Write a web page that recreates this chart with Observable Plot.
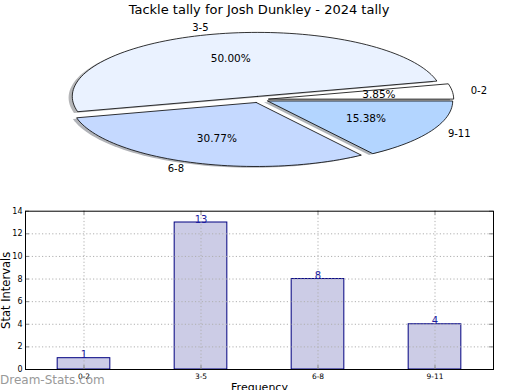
<!DOCTYPE html>
<html><head><meta charset="utf-8">
<script src="https://cdn.jsdelivr.net/npm/d3@7"></script>
<script src="https://cdn.jsdelivr.net/npm/@observablehq/plot@0.6"></script>
<style>
body{margin:0;background:#fff;font-family:"DejaVu Sans",sans-serif;}
#wrap{position:relative;width:520px;height:390px;overflow:hidden;background:#fff;}
#title{position:absolute;left:0;top:2px;width:518px;text-align:center;font-size:13px;line-height:15px;color:#000;}
#pie{position:absolute;left:0;top:0;}
#bar{position:absolute;left:0;top:200px;}
#wm{position:absolute;left:0;top:373px;font-size:12px;line-height:14px;color:#999;}
</style></head><body>
<div id="wrap">
<div id="pie"></div><div id="bar"></div>
<div id="title">Tackle tally for Josh Dunkley - 2024 tally</div>
<div id="wm">Dream-Stats.com</div>
</div>
<script>
const categories = ["0-2", "3-5", "6-8", "9-11"];
const counts = [1, 13, 8, 4];
const sliceColors = ["#ffffff", "#eaf2ff", "#c5d9ff", "#b3d5ff"];
const yTicks = [0, 2, 4, 6, 8, 10, 12, 14];

const total = d3.sum(counts);
const explode = 0.05;
const slices = [];
const polyPts = [];
const shadowPts = [];
let t1 = 0;
counts.forEach((c, i) => {
  const t2 = t1 + 360 * c / total;
  const tm = (t1 + t2) / 2 * Math.PI / 180;
  const ex = explode * Math.cos(tm), ey = explode * Math.sin(tm);
  const pts = [[ex, ey]];
  const n = Math.max(4, Math.ceil((t2 - t1) / 2));
  for (let k = 0; k <= n; k++) {
    const a = (t1 + (t2 - t1) * k / n) * Math.PI / 180;
    pts.push([ex + Math.cos(a), ey + Math.sin(a)]);
  }
  pts.push([ex, ey]);
  const sc = d3.rgb(sliceColors[i]);
  const shadowCol = d3.rgb(sc.r * 0.3, sc.g * 0.3, sc.b * 0.3).formatHex();
  pts.forEach(([x, y]) => {
    polyPts.push({k: i, x, y, fill: sliceColors[i]});
    shadowPts.push({k: i, x: x - 0.02, y: y - 0.02, fill: shadowCol});
  });
  const lx = ex + 1.1 * Math.cos(tm), ly = ey + 1.1 * Math.sin(tm);
  slices.push({
    label: categories[i],
    pct: (100 * c / total).toFixed(2) + "%",
    lx, ly,
    px: ex + 0.6 * Math.cos(tm), py: ey + 0.6 * Math.sin(tm),
    right: lx > 0
  });
  t1 = t2;
});

const pie = Plot.plot({
  width: 520, height: 195,
  margin: 0,
  style: {fontFamily: "DejaVu Sans", background: "transparent"},
  x: {domain: [-1, 1], range: [74, 444], axis: null},
  y: {domain: [-1, 1], range: [163, 35], axis: null},
  color: {type: "identity"},
  marks: [
    Plot.line(shadowPts, {x: "x", y: "y", z: "k", fill: "fill", fillOpacity: 0.4, stroke: "none", curve: "linear"}),
    Plot.line(polyPts, {x: "x", y: "y", z: "k", fill: "fill", stroke: "#000", strokeWidth: 0.8, curve: "linear", strokeLinejoin: "miter"}),
    Plot.text(slices.filter(d => d.right), {x: "lx", y: "ly", text: "label", textAnchor: "start", fontSize: 10, fill: "#000"}),
    Plot.text(slices.filter(d => !d.right), {x: "lx", y: "ly", text: "label", textAnchor: "end", fontSize: 10, fill: "#000"}),
    Plot.text(slices, {x: "px", y: "py", text: "pct", fontSize: 10.5, fill: "#000"})
  ]
});
document.getElementById("pie").append(pie);

const idx = categories.map((_, i) => i);
const bar = Plot.plot({
  width: 520, height: 190,
  marginLeft: 25, marginRight: 27, marginTop: 10.7, marginBottom: 21,
  style: {fontFamily: "DejaVu Sans", background: "transparent", overflow: "visible"},
  x: {domain: [-0.5, 3.5], axis: null},
  y: {domain: [0, 14], axis: null},
  marks: [
    Plot.rect(idx, {x1: i => i - 0.225, x2: i => i + 0.225, y1: 0, y2: i => counts[i], fill: "#ccccE6", stroke: "#000080", strokeWidth: 1}),
    Plot.ruleY(yTicks.slice(1, -1), {stroke: "#b0b0b0", strokeDasharray: "1.2,2.2", strokeWidth: 1}),
    Plot.ruleX(idx, {stroke: "#b0b0b0", strokeDasharray: "1.2,2.2", strokeWidth: 1}),
    Plot.ruleY(yTicks, {x1: -0.5, x2: -0.5 + 0.034, stroke: "#888"}),
    Plot.ruleY(yTicks, {x1: 3.5 - 0.034, x2: 3.5, stroke: "#888"}),
    Plot.ruleX(idx, {y1: 0, y2: 0.35, stroke: "#888"}),
    Plot.ruleX(idx, {y1: 14 - 0.35, y2: 14, stroke: "#888"}),
    Plot.frame({stroke: "#000", strokeWidth: 1}),
    Plot.text(yTicks, {x: -0.5, y: d => d, text: d => String(d), textAnchor: "end", dx: -3, fontSize: 8, fill: "#000"}),
    Plot.text(idx, {x: i => i, y: 0, text: i => categories[i], lineAnchor: "top", dy: 4, fontSize: 7.5, fill: "#000"}),
    Plot.text(idx, {x: i => i, y: i => counts[i], text: i => String(counts[i]), lineAnchor: "bottom", dy: 0, fontSize: 10, fill: "#1c1ca0"}),
    Plot.text(["Stat Intervals"], {frameAnchor: "left", textAnchor: "middle", lineAnchor: "middle", text: d => d, rotate: -90, dx: -19, fontSize: 11.5, fill: "#000"}),
    Plot.text(["Frequency"], {frameAnchor: "bottom", text: d => d, lineAnchor: "top", dy: 14, fontSize: 11, fill: "#000"})
  ]
});
document.getElementById("bar").append(bar);
</script>
</body></html>
